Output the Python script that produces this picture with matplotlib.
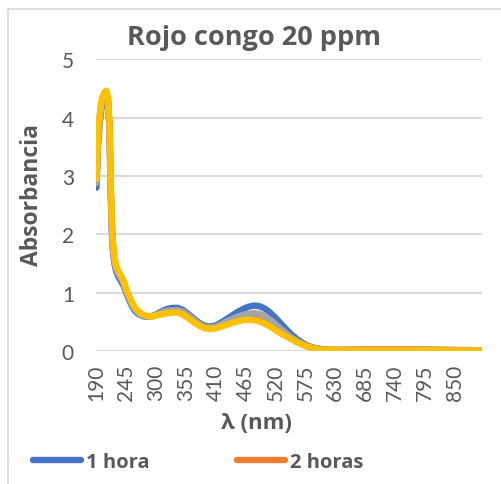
import matplotlib.pyplot as plt
from matplotlib.lines import Line2D

# wavelength (nm) and absorbance for each contact time
wavelength = [190, 193, 196, 199, 202, 205, 208, 211, 214, 216, 218, 220, 223, 226,
              230, 235, 240, 245, 250, 255, 260, 265, 270, 275, 280, 290, 300, 310,
              320, 330, 340, 350, 360, 370, 380, 390, 400, 410, 420, 430, 440, 450,
              460, 470, 480, 490, 500, 510, 520, 530, 540, 550, 560, 570, 580, 590,
              600, 610, 620, 640, 680, 720, 760, 800, 850, 900]

abs_1h = [2.80, 3.55, 3.90, 4.15, 4.28, 4.35, 4.38, 4.30, 3.80, 2.80, 2.10, 1.75, 1.50, 1.38,
          1.28, 1.20, 1.12, 1.00, 0.88, 0.78, 0.70, 0.65, 0.62, 0.60, 0.59, 0.59, 0.63, 0.68,
          0.72, 0.74, 0.74, 0.70, 0.63, 0.55, 0.48, 0.43, 0.42, 0.44, 0.49, 0.55, 0.61, 0.67,
          0.72, 0.76, 0.78, 0.77, 0.73, 0.66, 0.57, 0.47, 0.37, 0.28, 0.20, 0.14, 0.09, 0.06,
          0.04, 0.03, 0.02, 0.015, 0.015, 0.015, 0.015, 0.015, 0.01, 0.01]

abs_2h = [2.90, 3.68, 4.00, 4.24, 4.35, 4.41, 4.43, 4.33, 3.86, 2.92, 2.22, 1.85, 1.57, 1.43,
          1.34, 1.26, 1.17, 1.04, 0.93, 0.82, 0.74, 0.68, 0.64, 0.62, 0.60, 0.59, 0.62, 0.65,
          0.67, 0.68, 0.68, 0.65, 0.59, 0.52, 0.45, 0.41, 0.40, 0.41, 0.44, 0.48, 0.52, 0.55,
          0.58, 0.59, 0.59, 0.57, 0.53, 0.47, 0.40, 0.33, 0.27, 0.22, 0.16, 0.12, 0.08, 0.05,
          0.035, 0.025, 0.025, 0.025, 0.03, 0.03, 0.03, 0.03, 0.02, 0.015]

abs_3h = [2.88, 3.65, 3.98, 4.22, 4.33, 4.40, 4.42, 4.32, 3.85, 2.90, 2.20, 1.83, 1.55, 1.42,
          1.33, 1.25, 1.16, 1.03, 0.92, 0.81, 0.73, 0.67, 0.63, 0.61, 0.60, 0.59, 0.62, 0.66,
          0.69, 0.70, 0.70, 0.67, 0.61, 0.53, 0.46, 0.41, 0.40, 0.42, 0.46, 0.51, 0.55, 0.59,
          0.62, 0.64, 0.65, 0.64, 0.60, 0.54, 0.46, 0.38, 0.30, 0.23, 0.17, 0.12, 0.08, 0.05,
          0.035, 0.025, 0.02, 0.02, 0.02, 0.02, 0.02, 0.02, 0.015, 0.015]

abs_4h = [2.95, 3.75, 4.05, 4.28, 4.38, 4.44, 4.46, 4.35, 3.90, 3.00, 2.30, 1.92, 1.62, 1.47,
          1.38, 1.30, 1.20, 1.06, 0.95, 0.84, 0.76, 0.70, 0.66, 0.63, 0.61, 0.59, 0.61, 0.63,
          0.65, 0.66, 0.66, 0.62, 0.56, 0.49, 0.43, 0.39, 0.38, 0.39, 0.42, 0.45, 0.48, 0.51,
          0.53, 0.54, 0.53, 0.51, 0.47, 0.42, 0.36, 0.30, 0.25, 0.20, 0.15, 0.11, 0.07, 0.05,
          0.03, 0.02, 0.02, 0.015, 0.015, 0.015, 0.015, 0.015, 0.01, 0.01]

series = [('1 hora', abs_1h, '#4472C4'),
          ('2 horas', abs_2h, '#ED7D31'),
          ('3 horas', abs_3h, '#A5A5A5'),
          ('4 horas', abs_4h, '#FFC000')]

xticks = list(range(190, 851, 55))
yticks = [0, 1, 2, 3, 4, 5]

grey_txt = '#595959'
grid_col = '#D9D9D9'
font = ['Lato', 'DejaVu Sans']
bold_font = ['Open Sans', 'DejaVu Sans']
plt.rcParams['font.family'] = font

fig = plt.figure(figsize=(5.01, 4.85), dpi=100)
ax = fig.add_axes([0.192, 0.274, 0.770, 0.602])

for name, vals, col in series:
    ax.plot(wavelength, vals, color=col, lw=4.6, solid_capstyle='round',
            solid_joinstyle='round', label=name)

ax.set_xlim(189.5, 900.5)
ax.set_ylim(0, 5)
ax.set_xticks(xticks)
ax.set_xticklabels([str(t) for t in xticks], rotation=90)
ax.set_yticks(yticks)
ax.tick_params(axis='both', length=0, labelsize=15, labelcolor=grey_txt)
ax.tick_params(axis='y', pad=16)
ax.tick_params(axis='x', pad=9)
ax.grid(axis='y', color=grid_col, lw=1.5)
ax.set_axisbelow(True)
for s in ax.spines.values():
    s.set_visible(False)

ax.set_title('Rojo congo 20 ppm', fontsize=19.5, fontweight='bold', color=grey_txt,
             family=bold_font, pad=11, x=0.408)
ax.set_xlabel('λ (nm)', fontsize=16, fontweight='bold', color=grey_txt, family=bold_font)
ax.xaxis.set_label_coords(0.415, -0.21)
ax.set_ylabel('Absorbancia', fontsize=16.5, fontweight='bold', color=grey_txt, family=bold_font)
ax.yaxis.set_label_coords(-0.135, 0.538)

# legend: only the first two entries fit in the visible area
handles, labels = ax.get_legend_handles_labels()
leg = fig.legend(handles[:2], labels[:2], loc='center left', bbox_to_anchor=(33 / 501, 0.045),
                 ncol=2, frameon=False, borderpad=0, borderaxespad=0, handlelength=2.4,
                 handletextpad=0.25, columnspacing=4.3,
                 prop={'family': bold_font, 'weight': 'bold', 'size': 14.5})
for t in leg.get_texts():
    t.set_color(grey_txt)
for h in leg.legend_handles:
    h.set_linewidth(4.6)
    h.set_solid_capstyle('round')

# chart area border (left and top edges)
W, H = 501, 485
fig.add_artist(Line2D([8 / W, 8 / W], [0, 1 - 10 / H], color=grid_col, lw=1.2))
fig.add_artist(Line2D([8 / W, 1], [1 - 10 / H, 1 - 10 / H], color=grid_col, lw=1.2))

fig.savefig('out.png', dpi=100)
